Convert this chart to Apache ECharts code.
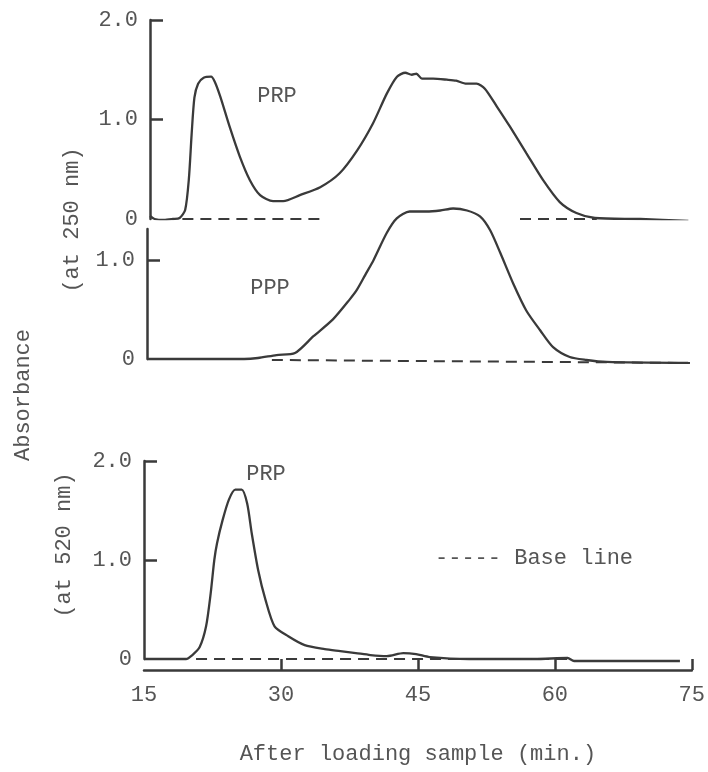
<!DOCTYPE html>
<html>
<head>
<meta charset="utf-8">
<script src="https://cdn.jsdelivr.net/npm/echarts@6/dist/echarts.min.js"></script>
<style>html,body{margin:0;padding:0;background:#fff;}#c{width:708px;height:772px;}</style>
</head>
<body>
<div id="c"></div>
<script>
// ---- data (x = minutes after loading sample, y = absorbance) ----
var xTicks = [15, 30, 45, 60, 75];

var prp250X = [15.0, 15.5, 16.5, 17.5, 18.2, 18.8, 19.2, 19.5, 19.8, 20.2, 20.8, 21.6, 22.0, 22.6, 23.6, 24.7, 25.8, 26.9, 28.3, 29.4, 31.2, 33.4, 35.5, 37.4, 39.1, 40.6, 41.7, 42.6, 43.3, 43.8, 44.4, 45.6, 47.1, 48.1, 49.2, 50.3, 51.2, 52.5, 53.9, 55.7, 57.5, 59.3, 61.1, 63.1, 68.0, 73.2];
var prp250Y = [0.03, 0.0, -0.01, 0.0, 0.01, 0.09, 0.40, 0.85, 1.22, 1.36, 1.42, 1.43, 1.38, 1.23, 0.93, 0.63, 0.39, 0.24, 0.18, 0.18, 0.24, 0.32, 0.46, 0.69, 0.96, 1.26, 1.43, 1.47, 1.45, 1.46, 1.41, 1.41, 1.40, 1.39, 1.36, 1.36, 1.31, 1.13, 0.93, 0.66, 0.39, 0.17, 0.06, 0.01, 0.0, -0.02];

var ppp250X = [15.0, 20.0, 25.5, 27.0, 29.0, 31.0, 33.0, 35.1, 36.9, 37.7, 38.6, 39.5, 40.9, 42.0, 43.4, 45.2, 46.7, 48.1, 49.6, 51.0, 52.1, 53.2, 54.6, 56.0, 57.5, 58.9, 60.7, 62.5, 64.7, 73.5];
var ppp250Y = [0.0, 0.0, 0.0, 0.01, 0.04, 0.06, 0.23, 0.40, 0.60, 0.70, 0.85, 1.00, 1.27, 1.42, 1.49, 1.49, 1.50, 1.52, 1.50, 1.44, 1.30, 1.07, 0.76, 0.49, 0.29, 0.12, 0.02, -0.01, -0.03, -0.04];

var prp520X = [15.0, 19.6, 20.3, 21.1, 21.8, 22.3, 22.7, 23.0, 23.6, 24.3, 25.0, 25.7, 26.3, 26.8, 27.5, 28.3, 29.3, 30.8, 32.6, 34.8, 36.5, 38.2, 39.8, 41.6, 43.4, 44.8, 46.3, 50.6, 57.8, 61.4, 62.1, 73.7];
var prp520Y = [0.0, 0.0, 0.04, 0.12, 0.33, 0.66, 1.00, 1.17, 1.40, 1.61, 1.71, 1.71, 1.57, 1.27, 0.90, 0.60, 0.33, 0.23, 0.14, 0.10, 0.08, 0.06, 0.04, 0.03, 0.06, 0.05, 0.02, 0.0, 0.0, 0.01, -0.02, -0.02];

// base lines
var base250aX = [18.5, 33.7], base250aY = [0, 0];
var base250bX = [55.0, 63.3], base250bY = [0, 0];
var basePPPX = [28.5, 73.7], basePPPY = [-0.01, -0.04];
var base520X = [20.7, 61.4], base520Y = [0, 0];

var yTicksTop = [0, 1, 2];
var yTicksMid = [0, 1];
var yTicksBot = [0, 1, 2];

// ---- helpers ----
function pairs(xs, ys) { return xs.map(function (x, i) { return [x, ys[i]]; }); }
var INK = '#3a3a3a';
var TXT = '#555';
var FONT = '"Liberation Mono", "DejaVu Sans Mono", monospace';
var FS = 22;

function yAxisCfg(gridIndex, max, tickVals, labelVals) {
  return {
    type: 'value', gridIndex: gridIndex, min: 0, max: max,
    axisLine: { show: true, onZero: false, lineStyle: { color: INK, width: 2.5 } },
    axisTick: { show: true, inside: true, length: 13, customValues: tickVals, lineStyle: { color: INK, width: 2.5 } },
    axisLabel: { show: true, customValues: labelVals, margin: 12, color: TXT, fontFamily: FONT, fontSize: FS,
      formatter: function (v) { return v === 0 ? '0' : v.toFixed(1); } },
    splitLine: { show: false }
  };
}
function lineSeries(name, xi, data, dashed, clip) {
  return {
    name: name, type: 'line', xAxisIndex: xi, yAxisIndex: xi, data: data,
    symbol: 'none', smooth: dashed ? false : 0.25, clip: clip !== false ? true : false,
    silent: true, animation: false,
    lineStyle: { color: INK, width: dashed ? 2 : 2.3, type: dashed ? [11, 7] : 'solid' }
  };
}

var chart = echarts.init(document.getElementById('c'), null, { renderer: 'canvas' });
chart.setOption({
  backgroundColor: '#ffffff',
  animation: false,
  grid: [
    { left: 150, top: 20, width: 555, height: 199 },
    { left: 147, top: 229, width: 555, height: 130 },
    { left: 144, top: 461, width: 555, height: 198 }
  ],
  xAxis: [
    { type: 'value', gridIndex: 0, min: 15, max: 75, show: false },
    { type: 'value', gridIndex: 1, min: 15, max: 75, show: false },
    {
      type: 'value', gridIndex: 2, min: 15, max: 75, interval: 15, offset: 11, position: 'bottom',
      axisLine: { show: true, onZero: false, lineStyle: { color: INK, width: 2.5 } },
      axisTick: { show: true, inside: true, length: 11, customValues: [30, 45, 60, 75], lineStyle: { color: INK, width: 2.5 } },
      axisLabel: { show: true, customValues: xTicks, margin: 14, color: TXT, fontFamily: FONT, fontSize: FS, showMinLabel: true, showMaxLabel: true },
      splitLine: { show: false },
      name: 'After loading sample (min.)', nameLocation: 'middle', nameGap: 73,
      nameTextStyle: { color: TXT, fontFamily: FONT, fontSize: FS }
    }
  ],
  yAxis: [
    yAxisCfg(0, 2, [1, 2], yTicksTop),
    yAxisCfg(1, 130 / 99, [1], yTicksMid),
    yAxisCfg(2, 2, [1, 2], yTicksBot)
  ],
  series: [
    lineSeries('PRP 250', 0, pairs(prp250X, prp250Y), false),
    lineSeries('base a', 0, pairs(base250aX, base250aY), true),
    lineSeries('base b', 0, pairs(base250bX, base250bY), true),
    lineSeries('PPP 250', 1, pairs(ppp250X, ppp250Y), false, false),
    lineSeries('base ppp', 1, pairs(basePPPX, basePPPY), true, false),
    lineSeries('PRP 520', 2, pairs(prp520X, prp520Y), false, false),
    lineSeries('base 520', 2, pairs(base520X, base520Y), true, false)
  ],
  graphic: [
    { type: 'text', x: 23, y: 395, rotation: Math.PI / 2, style: { text: 'Absorbance', fill: TXT, font: FS + 'px ' + FONT, align: 'center', verticalAlign: 'middle' } },
    { type: 'text', x: 72, y: 220, rotation: Math.PI / 2, style: { text: '(at 250 nm)', fill: TXT, font: FS + 'px ' + FONT, align: 'center', verticalAlign: 'middle' } },
    { type: 'text', x: 64, y: 545, rotation: Math.PI / 2, style: { text: '(at 520 nm)', fill: TXT, font: FS + 'px ' + FONT, align: 'center', verticalAlign: 'middle' } },
    { type: 'text', x: 277, y: 96, style: { text: 'PRP', fill: TXT, font: FS + 'px ' + FONT, align: 'center', verticalAlign: 'middle' } },
    { type: 'text', x: 270, y: 288, style: { text: 'PPP', fill: TXT, font: FS + 'px ' + FONT, align: 'center', verticalAlign: 'middle' } },
    { type: 'text', x: 266, y: 474, style: { text: 'PRP', fill: TXT, font: FS + 'px ' + FONT, align: 'center', verticalAlign: 'middle' } },
    { type: 'text', x: 435, y: 558, style: { text: '----- Base line', fill: TXT, font: FS + 'px ' + FONT, align: 'left', verticalAlign: 'middle' } }
  ]
});
</script>
</body>
</html>
